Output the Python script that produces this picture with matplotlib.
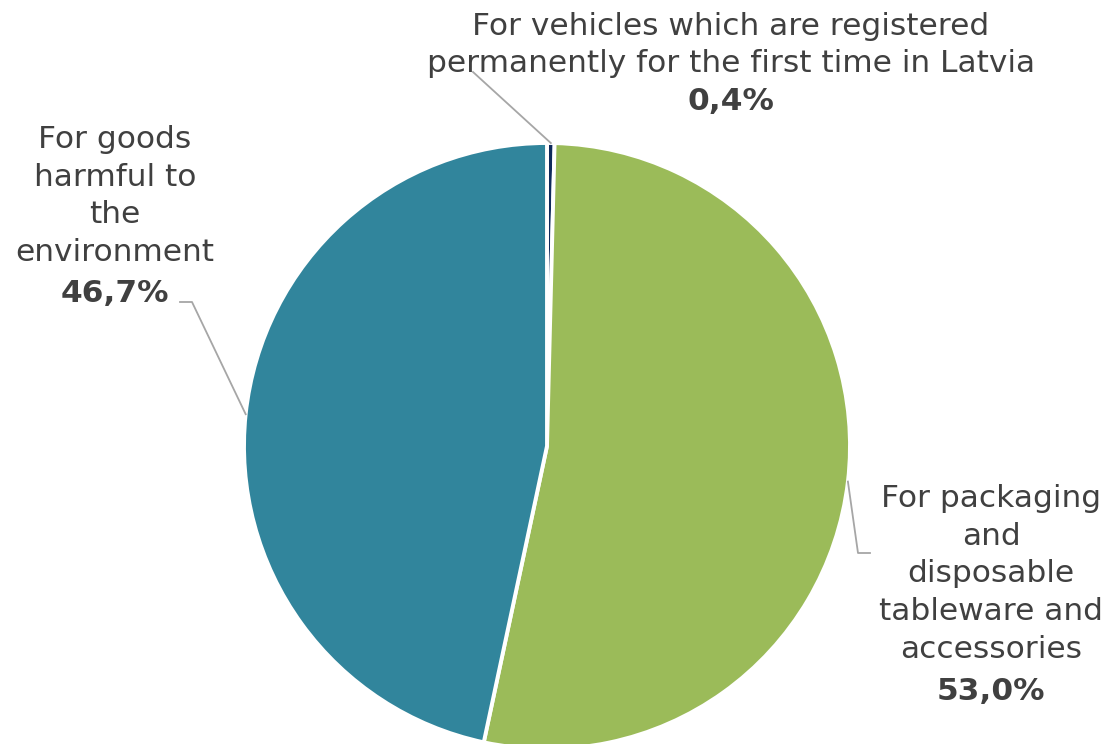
import numpy as np
import matplotlib
matplotlib.use("Agg")
import matplotlib.pyplot as plt

# Share of revenue by type of natural resource tax object
categories = [
    "For vehicles which are registered\npermanently for the first time in Latvia",
    "For packaging\nand\ndisposable\ntableware and\naccessories",
    "For goods\nharmful to\nthe\nenvironment",
]
shares = [0.4, 53.0, 46.7]
share_labels = ["0,4%", "53,0%", "46,7%"]
colors = ["#0E2A5C", "#9BBB59", "#31859C"]

W, H = 1110, 744
fig = plt.figure(figsize=(W / 100, H / 100), dpi=100)
ax = fig.add_axes([0, 0, 1, 1])

cx, cy, r = 547, H - 446, 303
wedges, _ = ax.pie(
    shares, colors=colors, startangle=90, counterclock=False,
    center=(cx, cy), radius=r,
    wedgeprops=dict(edgecolor="white", linewidth=2.8),
)
ax.set_xlim(0, W)
ax.set_ylim(0, H)
ax.set_aspect("equal")
ax.axis("off")

txt = "#404040"
fs = 22.5
line_col = "#A6A6A6"

def top(y):
    return H - y

# label blocks: (centre x, name centre y, percent centre y) in pixels from top
label_pos = [
    (731, 45, 101),
    (991, 574, 691),
    (115, 196, 294),
]
for name, pct, (lx, ny, py) in zip(categories, share_labels, label_pos):
    ax.text(lx, top(ny), name, ha="center", va="center", fontsize=fs,
            color=txt, linespacing=1.39, family="DejaVu Sans")
    ax.text(lx, top(py), pct, ha="center", va="center", fontsize=fs,
            color=txt, fontweight="bold", family="DejaVu Sans")

def edge_point(w):
    ang = np.deg2rad((w.theta1 + w.theta2) / 2)
    return cx + r * np.cos(ang), cy + r * np.sin(ang)

# leader lines from wedge edges to labels
p0 = edge_point(wedges[0])
ax.plot([p0[0], 473], [p0[1], top(72)], color=line_col, lw=1.3)
p1 = edge_point(wedges[1])
ax.plot([p1[0], 858, 870], [p1[1], top(553), top(553)], color=line_col, lw=1.3)
p2 = edge_point(wedges[2])
ax.plot([p2[0], 192, 180], [p2[1], top(302), top(302)], color=line_col, lw=1.3)

fig.savefig("out.png", dpi=100)
